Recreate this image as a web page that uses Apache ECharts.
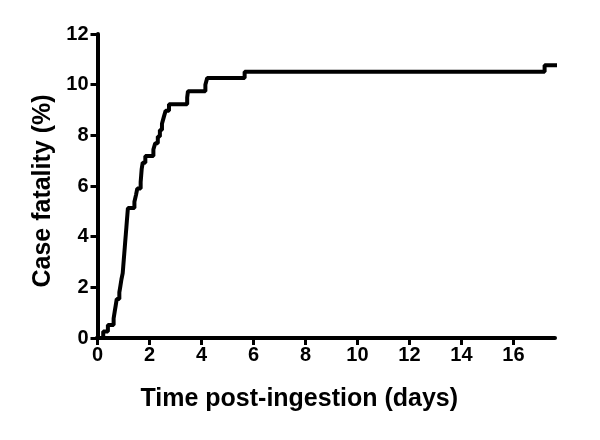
<!DOCTYPE html>
<html>
<head>
<meta charset="utf-8">
<script src="https://cdn.jsdelivr.net/npm/echarts@6/dist/echarts.min.js"></script>
<style>html,body{margin:0;padding:0;background:#fff}#c{width:600px;height:440px}</style>
</head>
<body>
<div id="c"></div>
<script>
var times = [0, 0.22, 0.40, 0.62, 0.66, 0.70, 0.74, 0.84, 0.88, 0.92, 0.97, 0.99, 1.01, 1.03, 1.05, 1.07, 1.09, 1.11, 1.13, 1.15, 1.17, 1.42, 1.48, 1.53, 1.66, 1.68, 1.70, 1.74, 1.84, 2.15, 2.22, 2.32, 2.40, 2.48, 2.55, 2.62, 2.75, 3.45, 3.48, 4.15, 4.22, 5.66, 17.2, 17.6];
var fatality = [0, 0.26, 0.51, 0.77, 1.03, 1.28, 1.54, 1.80, 2.05, 2.31, 2.56, 2.82, 3.08, 3.33, 3.59, 3.85, 4.10, 4.36, 4.62, 4.87, 5.13, 5.38, 5.64, 5.90, 6.15, 6.41, 6.67, 6.92, 7.18, 7.44, 7.69, 7.95, 8.21, 8.46, 8.72, 8.97, 9.23, 9.49, 9.74, 10.00, 10.26, 10.51, 10.77, 10.77];
var xTicks = [0, 2, 4, 6, 8, 10, 12, 14, 16];
var yTicks = [0, 2, 4, 6, 8, 10, 12];

var pts = times.map(function (t, i) { return [t, fatality[i]]; });
var font = 'Liberation Sans, Arial, sans-serif';
var chart = echarts.init(document.getElementById('c'));
chart.setOption({
  animation: false,
  grid: { left: 97.5, right: 45, top: 34, bottom: 102 },
  xAxis: {
    type: 'value', min: 0, max: 17.6, interval: 2,
    name: 'Time post-ingestion (days)', nameLocation: 'middle', nameGap: 49,
    nameTextStyle: { fontFamily: font, fontWeight: 'bold', fontSize: 25, color: '#000',
      padding: [0, 54, 0, 0] },
    axisLine: { show: true, lineStyle: { color: '#000', width: 4 } },
    axisTick: { show: true, length: 7, lineStyle: { color: '#000', width: 3 },
      customValues: xTicks },
    axisLabel: { fontFamily: font, fontWeight: 'bold', fontSize: 20, color: '#000', margin: 7,
      customValues: xTicks },
    splitLine: { show: false }
  },
  yAxis: {
    type: 'value', min: 0, max: 12, interval: 2,
    name: 'Case fatality (%)', nameLocation: 'middle', nameGap: 42,
    nameTextStyle: { fontFamily: font, fontWeight: 'bold', fontSize: 25, color: '#000',
      padding: [0, 10, 0, 0] },
    axisLine: { show: true, lineStyle: { color: '#000', width: 4 } },
    axisTick: { show: true, length: 7, lineStyle: { color: '#000', width: 3 },
      customValues: yTicks },
    axisLabel: { fontFamily: font, fontWeight: 'bold', fontSize: 20, color: '#000', margin: 9,
      customValues: yTicks },
    splitLine: { show: false }
  },
  series: [{
    type: 'line', step: 'end', data: pts, showSymbol: false, symbol: 'none',
    lineStyle: { color: '#000', width: 4, cap: 'square' }, z: 3
  }]
});
</script>
</body>
</html>
